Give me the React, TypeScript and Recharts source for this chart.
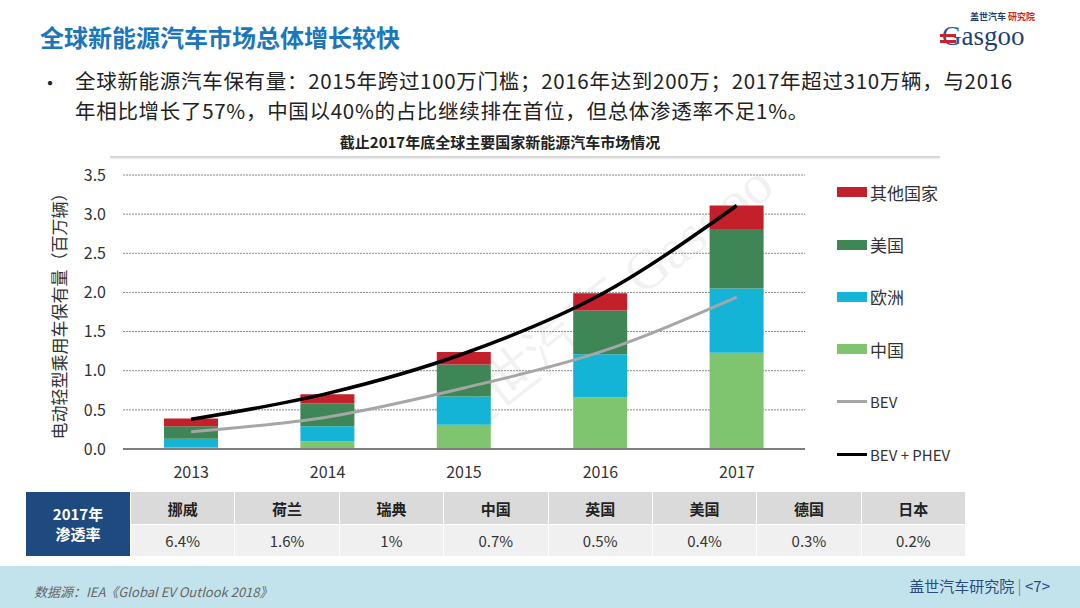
import React from 'react';
import {
  ComposedChart,
  Bar,
  Line,
  XAxis,
  YAxis,
  CartesianGrid,
} from 'recharts';

// stock by region, million vehicles
const years = ['2013', '2014', '2015', '2016', '2017'];
const china = [0.02, 0.10, 0.31, 0.66, 1.23];
const europe = [0.11, 0.19, 0.36, 0.55, 0.82];
const usa = [0.16, 0.29, 0.41, 0.56, 0.76];
const others = [0.10, 0.12, 0.16, 0.22, 0.30];
const bev = [0.22, 0.41, 0.78, 1.24, 1.94];
const bevPhev = [0.38, 0.71, 1.22, 1.97, 3.11];
const yTicks = [0, 0.5, 1, 1.5, 2, 2.5, 3, 3.5];

// 2017 penetration table
const tableCountries = ['挪威', '荷兰', '瑞典', '中国', '英国', '美国', '德国', '日本'];
const tableRates = ['6.4%', '1.6%', '1%', '0.7%', '0.5%', '0.4%', '0.3%', '0.2%'];

const chartData = years.map((y, i) => ({
  year: y,
  china: china[i],
  europe: europe[i],
  usa: usa[i],
  others: others[i],
  bev: bev[i],
  bevPhev: bevPhev[i],
}));

const legendItems = [
  { name: '其他国家', color: '#c3202b', type: 'bar' },
  { name: '美国', color: '#3f8656', type: 'bar' },
  { name: '欧洲', color: '#14b4d6', type: 'bar' },
  { name: '中国', color: '#7fc46f', type: 'bar' },
  { name: 'BEV', color: '#a6a6a6', type: 'line' },
  { name: 'BEV + PHEV', color: '#000000', type: 'line' },
];

const FONT = '"Noto Sans CJK SC", "Noto Sans", sans-serif';

const ChartLegend: React.FC = () => (
  <div style={{ position: 'absolute', left: 837, top: 166, fontFamily: FONT }}>
    {legendItems.map((it) => (
      <div key={it.name} style={{ display: 'flex', alignItems: 'center', height: 52.4 }}>
        <span
          style={{
            display: 'inline-block',
            width: 30,
            height: it.type === 'bar' ? 10 : 3,
            background: it.color,
            marginRight: 3,
          }}
        />
        <span style={{ fontSize: it.type === 'bar' ? 17 : 15, color: '#333' }}>{it.name}</span>
      </div>
    ))}
  </div>
);

const bulletLine: React.CSSProperties = {
  position: 'absolute',
  left: 75,
  fontSize: 20.5,
  letterSpacing: 0.7,
  lineHeight: '29px',
  color: '#222',
  whiteSpace: 'nowrap',
};

const App: React.FC = () => {
  return (
    <div style={{ position: 'relative', width: 1080, height: 608, background: '#fff', fontFamily: FONT, overflow: 'hidden' }}>
      <style>{'body{margin:0}'}</style>

      {/* header */}
      <div style={{ position: 'absolute', left: 40, top: 19, fontSize: 24, fontWeight: 700, color: '#1b76bc' }}>
        全球新能源汽车市场总体增长较快
      </div>
      <div style={{ position: 'absolute', left: 940, top: 12, width: 110, height: 40 }}>
        <div style={{ position: 'absolute', left: 30, top: 0, fontSize: 9, lineHeight: '10px', fontWeight: 700, color: '#1e3f74', whiteSpace: 'nowrap' }}>
          盖世汽车 <span style={{ color: '#d21f2b' }}>研究院</span>
        </div>
        <div style={{ position: 'absolute', left: 2, top: 11, fontSize: 27, fontFamily: '"Liberation Serif", serif', color: '#1e3f74', lineHeight: '26px' }}>
          <span style={{ color: '#1e5aa8' }}>G</span>asgoo
        </div>
        <div style={{ position: 'absolute', left: 0, top: 22, width: 16, height: 3, background: '#d21f2b' }} />
        <div style={{ position: 'absolute', left: 0, top: 28, width: 16, height: 3, background: '#d21f2b' }} />
      </div>

      {/* bullet */}
      <div style={{ position: 'absolute', left: 40, top: 68, fontSize: 20, color: '#222' }}>•</div>
      <div style={{ ...bulletLine, top: 66 }}>
        全球新能源汽车保有量：2015年跨过100万门槛；2016年达到200万；2017年超过310万辆，与2016
      </div>
      <div style={{ ...bulletLine, top: 96 }}>
        年相比增长了57%，中国以40%的占比继续排在首位，但总体渗透率不足1%。
      </div>

      {/* chart title */}
      <div style={{ position: 'absolute', left: 90, top: 131, width: 820, textAlign: 'center', fontSize: 15, fontWeight: 700, color: '#222' }}>
        截止2017年底全球主要国家新能源汽车市场情况
      </div>
      <div style={{ position: 'absolute', left: 110, top: 156, width: 830, height: 2, background: '#d8d8d8', boxShadow: '0 1px 2px #e8e8e8' }} />

      {/* watermark */}
      <div
        style={{
          position: 'absolute',
          left: 400,
          top: 265,
          fontSize: 56,
          fontFamily: '"Liberation Serif", serif',
          color: '#000',
          opacity: 0.05,
          transform: 'rotate(-38deg)',
          whiteSpace: 'nowrap',
          pointerEvents: 'none',
        }}
      >
        盖世汽车 Gasgoo
      </div>

      <div style={{ position: 'absolute', left: 0, top: 160 }}>
        <ComposedChart
          width={1080}
          height={330}
          data={chartData}
          margin={{ top: 15, right: 275, bottom: 11, left: 43 }}
        >
          <CartesianGrid vertical={false} stroke="#8a8a8a" strokeDasharray="2 1" />
          <XAxis
            dataKey="year"
            axisLine={{ stroke: '#7f7f7f', strokeWidth: 2 }}
            tickLine={false}
            tick={{ fill: '#333', fontSize: 16, fontFamily: FONT }}
            tickMargin={12}
            height={30}
          />
          <YAxis
            domain={[0, 3.5]}
            ticks={yTicks}
            tickFormatter={(v: number) => v.toFixed(1)}
            axisLine={false}
            tickLine={false}
            tickSize={0}
            tickMargin={17}
            width={80}
            tick={{ fill: '#333', fontSize: 16, fontFamily: FONT }}
            label={{
              value: '电动轻型乘用车保有量（百万辆）',
              angle: -90,
              position: 'insideLeft',
              offset: 17,
              style: { fill: '#333', fontSize: 17, fontFamily: FONT, textAnchor: 'middle' },
            }}
          />
          <Bar dataKey="china" stackId="a" fill="#7fc46f" barSize={54} isAnimationActive={false} />
          <Bar dataKey="europe" stackId="a" fill="#14b4d6" barSize={54} isAnimationActive={false} />
          <Bar dataKey="usa" stackId="a" fill="#3f8656" barSize={54} isAnimationActive={false} />
          <Bar dataKey="others" stackId="a" fill="#c3202b" barSize={54} isAnimationActive={false} />
          <Line dataKey="bev" type="monotone" stroke="#a6a6a6" strokeWidth={3} dot={false} isAnimationActive={false} />
          <Line dataKey="bevPhev" type="monotone" stroke="#000" strokeWidth={3.5} dot={false} isAnimationActive={false} />
        </ComposedChart>
      </div>
      <ChartLegend />

      {/* penetration table */}
      <div style={{ position: 'absolute', left: 26, top: 492, width: 939, height: 64, display: 'flex' }}>
        <div
          style={{
            width: 104,
            background: '#1f4a80',
            color: '#fff',
            fontWeight: 700,
            fontSize: 15,
            display: 'flex',
            flexDirection: 'column',
            alignItems: 'center',
            justifyContent: 'center',
            lineHeight: '20px',
          }}
        >
          <div>2017年</div>
          <div>渗透率</div>
        </div>
        {tableCountries.map((c, i) => (
          <div key={c} style={{ flex: 1, display: 'flex', flexDirection: 'column', borderLeft: '1px solid #fff' }}>
            <div style={{ height: 33, background: '#dadada', display: 'flex', alignItems: 'center', justifyContent: 'center', fontSize: 15, fontWeight: 700, color: '#222' }}>
              {c}
            </div>
            <div style={{ height: 31, background: '#f0f0f0', display: 'flex', alignItems: 'center', justifyContent: 'center', fontSize: 15, color: '#333', borderTop: '1px solid #fff' }}>
              {tableRates[i]}
            </div>
          </div>
        ))}
      </div>

      {/* footer */}
      <div style={{ position: 'absolute', left: 0, top: 566, width: 1080, height: 42, background: '#c3e3ec' }} />
      <div style={{ position: 'absolute', left: 34, top: 582, fontSize: 13, fontStyle: 'italic', color: '#666' }}>
        数据源：IEA《Global EV Outlook 2018》
      </div>
      <div style={{ position: 'absolute', right: 30, top: 575, fontSize: 15, color: '#2a4c7c' }}>
        盖世汽车研究院 <span style={{ color: '#888' }}>|</span> &lt;7&gt;
      </div>
    </div>
  );
};

export default App;
